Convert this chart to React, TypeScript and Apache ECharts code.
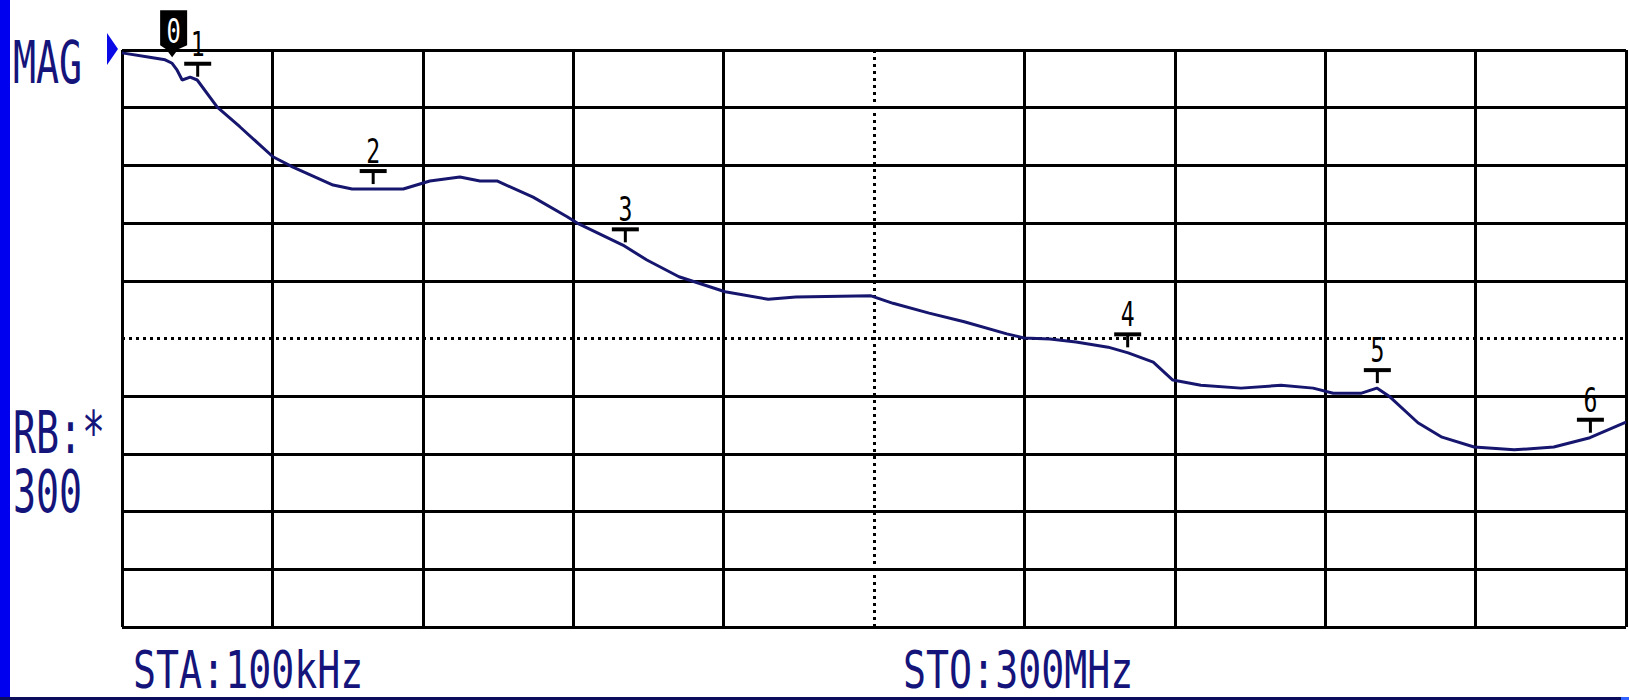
import React, { useEffect, useRef } from "react";
import * as echarts from "echarts";

// Sweep: STA 100kHz .. STO 300MHz, 10 dB/div, reference at top
const FREQ_MHZ = [0, 5.2, 8.6, 10.0, 11.0, 12.0, 13.6, 15.0, 19.0, 23.5, 30.1, 34.1, 42.1, 45.9, 56.1, 61.4, 67.4, 71.4, 74.8, 82.0, 88.8, 90.8, 99.9, 104.7, 111.1, 120.3, 128.9, 134.4, 149.4, 153.8, 161.0, 168.0, 176.5, 179.9, 185.1, 190.3, 196.7, 200.7, 205.7, 209.6, 215.2, 223.2, 231.2, 237.6, 241.6, 247.1, 250.3, 252.9, 258.5, 263.3, 269.7, 277.7, 285.6, 292.8, 300];
const MAG_DB = [-0.5, -1.2, -1.7, -2.3, -3.5, -5.2, -4.7, -5.2, -9.9, -13.3, -18.5, -20.3, -23.4, -24.1, -24.1, -22.7, -22.0, -22.7, -22.7, -25.5, -28.9, -30.0, -33.8, -36.4, -39.3, -41.9, -43.2, -42.8, -42.6, -43.9, -45.6, -47.1, -49.2, -49.9, -50.1, -50.6, -51.5, -52.5, -54.1, -57.2, -58.1, -58.6, -58.1, -58.6, -59.5, -59.5, -58.6, -60.1, -64.6, -67.1, -68.8, -69.3, -68.8, -67.2, -64.5];

const MARKER_LABELS = ["0", "1", "2", "3", "4", "5", "6"];
const MARKER_FREQ = [10.0, 15.0, 50.0, 100.3, 200.5, 250.3, 292.8];
const MARKER_DB = [-2.3, -5.5, -24.1, -34.2, -52.4, -58.6, -67.2];

const REF_LEVEL_DB = 0;
const X_MIN = 0, X_MAX = 300, X_STEP = 30;
const Y_MIN = -100, Y_MAX = 0, Y_STEP = 10;

const LEFT_TEXTS = ["MAG", "RB:*", "300"];
const START_TEXT = "STA:100kHz";
const STOP_TEXT = "STO:300MHz";

const NAVY = "#14147a";
const TRACE = "#16166e";
const MONO = "'DejaVu Sans Mono', monospace";

function gridColors(n: number) {
  const arr: string[] = [];
  for (let i = 0; i <= n; i++) arr.push(i === n / 2 ? "rgba(0,0,0,0)" : "#000");
  return arr;
}

export default function App() {
  const ref = useRef<HTMLDivElement>(null);
  useEffect(() => {
    document.body.style.margin = "0";
    const chart = echarts.init(ref.current!, null, { renderer: "svg" });
    const trace = FREQ_MHZ.map((f, i) => [f, MAG_DB[i]]);
    const markers = MARKER_FREQ.map((f, i) => [f, MARKER_DB[i]]);

    const txt = (text: string, x: number, y: number, size = 58, sx = 0.66) => ({
      type: "text",
      x,
      y,
      scaleX: sx,
      style: { text, fontFamily: MONO, fontSize: size, fill: NAVY, align: "left", verticalAlign: "middle" },
      z: 10,
    });

    chart.setOption({
      animation: false,
      backgroundColor: "#fff",
      grid: { left: 122, top: 50, width: 1504, height: 577, containLabel: false },
      xAxis: {
        type: "value",
        min: X_MIN,
        max: X_MAX,
        interval: X_STEP,
        axisLine: { show: false },
        axisTick: { show: false },
        axisLabel: { show: false },
        splitLine: { show: true, lineStyle: { color: gridColors((X_MAX - X_MIN) / X_STEP), width: 3 } },
      },
      yAxis: {
        type: "value",
        min: Y_MIN,
        max: Y_MAX,
        interval: Y_STEP,
        axisLine: { show: false },
        axisTick: { show: false },
        axisLabel: { show: false },
        splitLine: { show: true, lineStyle: { color: gridColors((Y_MAX - Y_MIN) / Y_STEP), width: 3 } },
      },
      graphic: [
        { type: "rect", shape: { x: 0, y: 0, width: 10, height: 700 }, style: { fill: "#0000ee" }, z: 10 },
        { type: "rect", shape: { x: 0, y: 697, width: 1629, height: 3 }, style: { fill: "#0c0c5c" }, z: 10 },
        { type: "rect", shape: { x: 1621, y: 697, width: 8, height: 3 }, style: { fill: "#3060ff" }, z: 11 },
        txt(LEFT_TEXTS[0], 13, 63),
        txt(LEFT_TEXTS[1], 13, 433),
        txt(LEFT_TEXTS[2], 13, 492),
        txt(START_TEXT, 133, 670, 52, 0.736),
        txt(STOP_TEXT, 903, 670, 52, 0.736),
      ],
      series: [
        {
          type: "line",
          data: trace,
          symbol: "none",
          lineStyle: { color: TRACE, width: 3 },
          z: 3,
          markLine: {
            silent: true,
            symbol: "none",
            label: { show: false },
            lineStyle: { color: "#000", width: 3, type: [3, 4] },
            data: [{ xAxis: (X_MIN + X_MAX) / 2 }, { yAxis: (Y_MIN + Y_MAX) / 2 }],
            z: 1,
          },
        },
        {
          type: "custom",
          data: [[X_MIN, REF_LEVEL_DB]],
          z: 5,
          renderItem: (params: any, api: any) => {
            const p = api.coord([api.value(0), api.value(1)]);
            return {
              type: "polygon",
              shape: { points: [[p[0] - 15, p[1] - 17], [p[0] - 4, p[1] - 1], [p[0] - 15, p[1] + 15]] },
              style: { fill: "#0a0ae6" },
            };
          },
        },
        {
          type: "custom",
          data: markers,
          z: 6,
          renderItem: (params: any, api: any) => {
            const p = api.coord([api.value(0), api.value(1)]);
            const x = p[0], y = p[1];
            const label = MARKER_LABELS[params.dataIndex];
            if (label === "0") {
              return {
                type: "group",
                children: [
                  {
                    type: "polygon",
                    shape: {
                      points: [[x - 12, y - 53], [x + 15, y - 53], [x + 15, y - 18], [x + 6, y - 14], [x, y - 6], [x - 6, y - 14], [x - 12, y - 18]],
                    },
                    style: { fill: "#000" },
                  },
                  {
                    type: "text",
                    x: x + 1.5,
                    y: y - 32,
                    scaleX: 0.7,
                    style: { text: label, fontFamily: MONO, fontSize: 34, fill: "#fff", align: "center", verticalAlign: "middle" },
                  },
                ],
              };
            }
            return {
              type: "group",
              children: [
                { type: "rect", shape: { x: x - 13, y: y - 20, width: 27, height: 4 }, style: { fill: "#000" } },
                { type: "rect", shape: { x: x - 1, y: y - 17, width: 3, height: 12 }, style: { fill: "#000" } },
                {
                  type: "text",
                  x: x + 0.5,
                  y: y - 37,
                  scaleX: 0.7,
                  style: { text: label, fontFamily: MONO, fontSize: 33, fill: "#000", align: "center", verticalAlign: "middle" },
                },
              ],
            };
          },
        },
      ],
    });
    return () => chart.dispose();
  }, []);
  return <div ref={ref} style={{ width: 1629, height: 700 }} />;
}
